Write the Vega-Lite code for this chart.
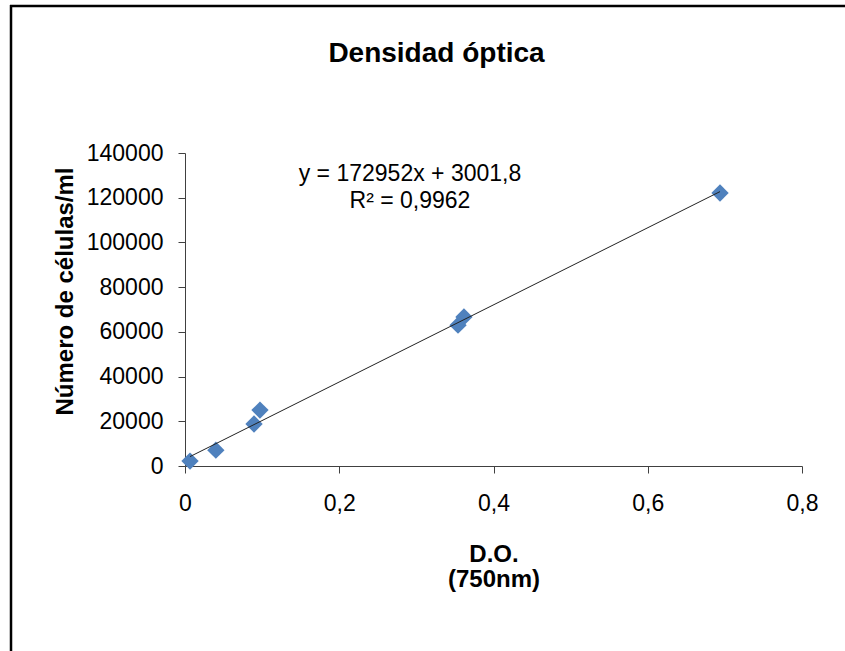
{
  "$schema": "https://vega.github.io/schema/vega-lite/v6.json",
  "width": 617,
  "height": 313,
  "autosize": {"type": "none"},
  "padding": {"left": 185, "top": 153, "right": 43, "bottom": 185},
  "background": "white",
  "config": {"view": {"stroke": null}, "font": "Liberation Sans"},
  "title": {"text": "Densidad óptica", "fontSize": 28, "fontWeight": "bold", "color": "black", "font": "Liberation Sans", "offset": -92, "dx": -57, "anchor": "middle", "frame": "group", "baseline": "bottom"},
  "data": {"values": [
    {"do": 0.0065, "cells": 2200},
    {"do": 0.040, "cells": 7100},
    {"do": 0.0895, "cells": 18800},
    {"do": 0.0972, "cells": 25000},
    {"do": 0.354, "cells": 63000},
    {"do": 0.3617, "cells": 66700},
    {"do": 0.6937, "cells": 122100}
  ]},
  "layer": [
    {
      "mark": {"type": "point", "shape": "diamond", "filled": true, "size": 300, "color": "#4F81BD", "opacity": 1},
      "encoding": {
        "x": {"field": "do", "type": "quantitative", "scale": {"domain": [0, 0.8], "nice": false},
          "axis": {"values": [0, 0.2, 0.4, 0.6, 0.8], "labelExpr": "replace(format(datum.value,'~g'),'.',',')", "labelFlush": false, "title": ["D.O.", "(750nm)"], "titleFontSize": 24, "titleFontWeight": "bold", "titleColor": "black", "labelFontSize": 23, "labelColor": "black", "labelPadding": 19, "tickSize": 7, "domainColor": "#404040", "tickColor": "#404040", "grid": false, "titlePadding": 27, "titleLineHeight": 25, "labelFont": "Liberation Sans", "titleFont": "Liberation Sans"}},
        "y": {"field": "cells", "type": "quantitative", "scale": {"domain": [0, 140000], "nice": false},
          "axis": {"values": [0, 20000, 40000, 60000, 80000, 100000, 120000, 140000], "format": "d", "labelFlush": false, "title": "Número de células/ml", "titleFontSize": 24, "titleFontWeight": "bold", "titleColor": "black", "labelFontSize": 23, "labelColor": "black", "labelPadding": 15, "tickSize": 7, "domainColor": "#404040", "tickColor": "#404040", "grid": false, "titlePadding": 9, "titleY": 138, "labelFont": "Liberation Sans", "titleFont": "Liberation Sans"}}
      }
    },
    {
      "transform": [{"regression": "cells", "on": "do"}],
      "mark": {"type": "line", "color": "#222222", "strokeWidth": 1},
      "encoding": {
        "x": {"field": "do", "type": "quantitative"},
        "y": {"field": "cells", "type": "quantitative"}
      }
    },
    {
      "data": {"values": [{}]},
      "mark": {"type": "text", "text": "y = 172952x + 3001,8", "fontSize": 23, "fontWeight": "normal", "font": "Liberation Sans", "color": "black"},
      "encoding": {"x": {"datum": 0.2917}, "y": {"datum": 130600}}
    },
    {
      "data": {"values": [{}]},
      "mark": {"type": "text", "text": "R² = 0,9962", "fontSize": 23, "fontWeight": "normal", "font": "Liberation Sans", "color": "black"},
      "encoding": {"x": {"datum": 0.2917}, "y": {"datum": 118500}}
    },
    {
      "data": {"values": [{}]},
      "mark": {"type": "rule", "color": "black", "strokeWidth": 2.5, "clip": false},
      "encoding": {"x": {"datum": -0.2269}, "x2": {"datum": 0.86}, "y": {"datum": 205750}}
    },
    {
      "data": {"values": [{}]},
      "mark": {"type": "rule", "color": "black", "strokeWidth": 2.5, "clip": false},
      "encoding": {"x": {"datum": -0.2256}, "y": {"datum": 206200}, "y2": {"datum": -83000}}
    }
  ]
}
